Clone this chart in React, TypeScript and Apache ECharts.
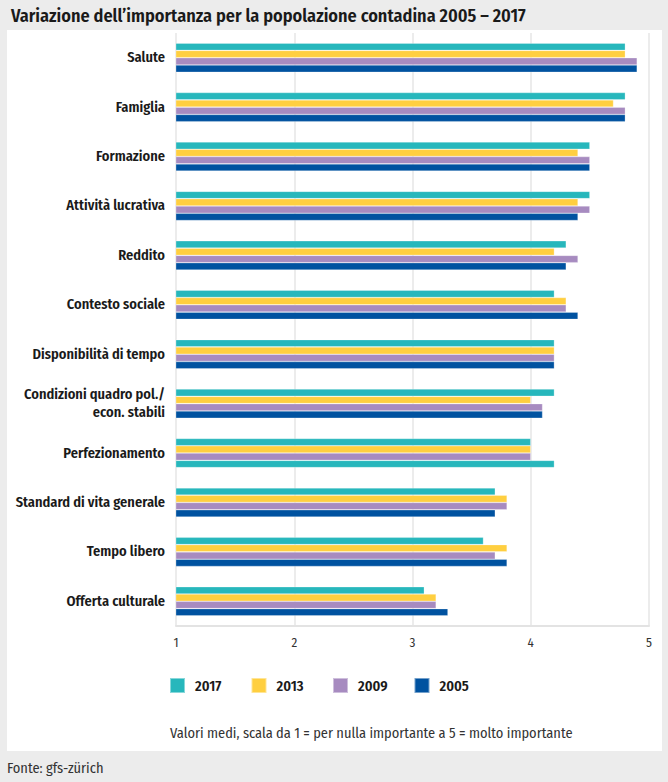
import React, { useEffect, useRef } from "react";
import * as echarts from "echarts";

const categories = [
  "Salute",
  "Famiglia",
  "Formazione",
  "Attività lucrativa",
  "Reddito",
  "Contesto sociale",
  "Disponibilità di tempo",
  "Condizioni quadro pol./\necon. stabili",
  "Perfezionamento",
  "Standard di vita generale",
  "Tempo libero",
  "Offerta culturale",
];

const years = ["2017", "2013", "2009", "2005"];

const v2017 = [4.8, 4.8, 4.5, 4.5, 4.3, 4.2, 4.2, 4.2, 4.0, 3.7, 3.6, 3.1];
const v2013 = [4.8, 4.7, 4.4, 4.4, 4.2, 4.3, 4.2, 4.0, 4.0, 3.8, 3.8, 3.2];
const v2009 = [4.9, 4.8, 4.5, 4.5, 4.4, 4.3, 4.2, 4.1, 4.0, 3.8, 3.7, 3.2];
const v2005 = [4.9, 4.8, 4.5, 4.4, 4.3, 4.4, 4.2, 4.1, 4.2, 3.7, 3.8, 3.3];

const xTicks = [1, 2, 3, 4, 5];

const colors = ["#27b7bc", "#ffcf40", "#a78bc0", "#0052a0"];

const FONT =
  "'Fira Sans Condensed','Roboto Condensed','Liberation Sans Narrow','DejaVu Sans Condensed','Open Sans',sans-serif";

export default function App() {
  const ref = useRef<HTMLDivElement>(null);

  useEffect(() => {
    if (!ref.current) return;
    const chart = echarts.init(ref.current, null, { renderer: "svg" });
    const seriesData = [v2017, v2013, v2009, v2005];

    const option: any = {
      animation: false,
      backgroundColor: "#ececec",
      textStyle: { fontFamily: FONT },
      title: {
        text: "Variazione dell\u2019importanza per la popolazione contadina 2005 \u2013 2017",
        left: 6,
        top: 2,
        textStyle: {
          fontFamily: FONT,
          fontSize: 18.2,
          fontWeight: 600,
          color: "#1a1a1a",
        },
      },
      graphic: [
        {
          type: "rect",
          z: -10,
          silent: true,
          shape: { x: 7, y: 30, width: 655, height: 721 },
          style: { fill: "#ffffff" },
        },
        {
          type: "text",
          left: 170,
          top: 726,
          style: {
            text: "Valori medi, scala da 1 = per nulla importante a 5 = molto importante",
            font: `14.4px ${FONT}`,
            fill: "#333333",
          },
        },
        {
          type: "text",
          left: 7,
          top: 761,
          style: {
            text: "Fonte: gfs-zürich",
            font: `14.4px ${FONT}`,
            fill: "#333333",
          },
        },
      ],
      legend: years.map((y, i) => ({
        data: [y],
        left: 169 + i * 81.5,
        top: 677,
        padding: 0,
        icon: "rect",
        itemWidth: 15,
        itemHeight: 15,
        selectedMode: false,
        textStyle: {
          fontFamily: FONT,
          fontSize: 14.5,
          fontWeight: 600,
          color: "#1a1a1a",
          padding: [0, 0, 0, 5],
        },
      })),
      grid: {
        left: 176,
        right: 19,
        top: 33,
        height: 593,
        containLabel: false,
      },
      xAxis: {
        type: "value",
        min: 1,
        max: 5,
        interval: 1,
        axisLine: { show: true, lineStyle: { color: "#e3e3e3", width: 2 } },
        axisTick: { show: false },
        axisLabel: {
          margin: 10,
          fontFamily: FONT,
          fontSize: 13,
          color: "#333333",
          formatter: (v: number) => (xTicks.includes(v) ? String(v) : ""),
        },
        splitLine: { show: true, lineStyle: { color: "#e6e6e6", width: 1.5 } },
      },
      yAxis: {
        type: "category",
        data: categories,
        inverse: true,
        axisLine: { show: false },
        axisTick: { show: false },
        axisLabel: {
          margin: 11,
          fontFamily: FONT,
          fontSize: 14.4,
          fontWeight: 600,
          color: "#1a1a1a",
          lineHeight: 18,
          align: "right",
        },
        splitLine: { show: false },
      },
      series: years.map((y, i) => ({
        name: y,
        type: "bar",
        barWidth: 7.3,
        barGap: "0%",
        itemStyle: {
          color: colors[i],
          borderColor: "rgba(255,255,255,0.45)",
          borderWidth: 0.6,
        },
        data: seriesData[i].map((v, j) =>
          y === "2005" && categories[j] === "Perfezionamento"
            ? { value: v, itemStyle: { color: colors[0] } }
            : v
        ),
      })),
    };

    chart.setOption(option);
    return () => chart.dispose();
  }, []);

  return (
    <div
      ref={ref}
      style={{ position: "fixed", left: 0, top: 0, width: 668, height: 782 }}
    />
  );
}
